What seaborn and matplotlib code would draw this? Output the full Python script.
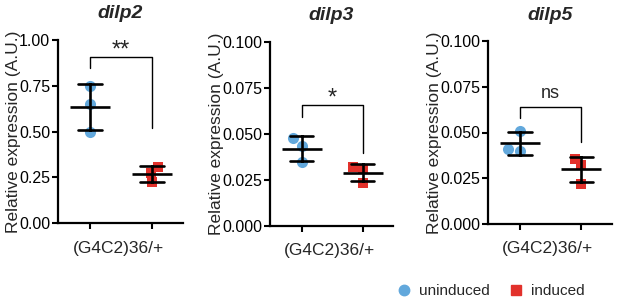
import numpy as np
import pandas as pd
import matplotlib
matplotlib.use("Agg")
import matplotlib.pyplot as plt
from matplotlib.lines import Line2D
from matplotlib.ticker import FormatStrFormatter
import seaborn as sns

# ---- data ----
genes = ["dilp2", "dilp3", "dilp5"]
conditions = ["uninduced", "induced"]
uninduced = [[0.75, 0.65, 0.50], [0.0478, 0.0435, 0.0348], [0.051, 0.040, 0.041]]
induced = [[0.306, 0.273, 0.224], [0.032, 0.031, 0.0235], [0.0355, 0.032, 0.022]]
ymax = [1.0, 0.1, 0.1]
yticks = [[0, 0.25, 0.5, 0.75, 1.0], [0, 0.025, 0.05, 0.075, 0.1], [0, 0.025, 0.05, 0.075, 0.1]]
tick_fmt = ["%.2f", "%.3f", "%.3f"]
sig_labels = ["**", "*", "ns"]
bracket_top = [0.907, 0.0658, 0.064]
bracket_left = [0.847, 0.059, 0.058]
bracket_right = [0.52, 0.0397, 0.045]
sig_text_y = [0.945, 0.0695, 0.0715]
group_label = "(G4C2)36/+"
ylabel = "Relative expression (A.U.)"

blue = "#62a8dc"
red = "#e2312b"

sns.set_style("ticks")
plt.rcParams["font.family"] = ["Liberation Sans", "DejaVu Sans"]

W, H = 617, 301
fig = plt.figure(figsize=(W / 100, H / 100), dpi=100)

# axes boxes in pixels: left, right, top, bottom
boxes = [(58, 183, 40, 223), (270, 393, 42, 226), (488, 612, 41, 224)]

for i, g in enumerate(genes):
    l, r, t, b = boxes[i]
    ax = fig.add_axes([l / W, 1 - b / H, (r - l) / W, (b - t) / H])
    df = pd.DataFrame({
        "condition": ["uninduced"] * len(uninduced[i]) + ["induced"] * len(induced[i]),
        "value": uninduced[i] + induced[i],
    })
    sns.swarmplot(data=df[df.condition == "uninduced"], x="condition", y="value",
                  order=conditions, color=blue, marker="o", size=8, linewidth=0,
                  ax=ax, zorder=2)
    sns.swarmplot(data=df[df.condition == "induced"], x="condition", y="value",
                  order=conditions, color=red, marker="s", size=6.5, linewidth=0,
                  ax=ax, zorder=2)
    sns.pointplot(data=df, x="condition", y="value", order=conditions,
                  errorbar="sd", capsize=0.38, color="black",
                  marker="_", markersize=29, markeredgewidth=1.9,
                  linestyle="none", err_kws={"linewidth": 1.9}, ax=ax, zorder=3)

    ax.set_xlim(-0.52, 1.5)
    ax.set_ylim(0, ymax[i])
    ax.set_yticks(yticks[i])
    ax.yaxis.set_major_formatter(FormatStrFormatter(tick_fmt[i]))
    ax.set_xticks([0, 1])
    ax.set_xticklabels(["", ""])
    ax.set_xlabel("")
    ax.set_ylabel(ylabel, fontsize=12.5, labelpad=-1)
    ax.tick_params(axis="both", length=4, width=1.5, labelsize=11.5, pad=1.5, colors="black")
    for s in ["left", "bottom"]:
        ax.spines[s].set_linewidth(1.6)
        ax.spines[s].set_color("black")
    sns.despine(ax=ax)

    ax.text(0.45, -25 / (b - t), group_label, transform=ax.get_xaxis_transform(),
            ha="center", va="center", fontsize=12.5, clip_on=False)
    ax.text(0.5, 1 + 26 / (b - t), g, transform=ax.transAxes, ha="center", va="center",
            fontsize=14, fontweight="bold", fontstyle="italic")

    # significance bracket
    ax.plot([0, 0, 1, 1], [bracket_left[i], bracket_top[i], bracket_top[i], bracket_right[i]],
            color="black", linewidth=1.0, clip_on=False, zorder=4)
    fs = 13 if sig_labels[i] == "ns" else 17
    ax.text(0.5, sig_text_y[i], sig_labels[i], ha="center", va="center", fontsize=fs)

handles = [Line2D([], [], marker="o", color=blue, linestyle="none", markersize=7.5),
           Line2D([], [], marker="s", color=red, linestyle="none", markersize=6.5)]
fig.legend(handles=handles, labels=conditions, loc="center", bbox_to_anchor=(0.795, 0.033),
           ncol=2, frameon=False, fontsize=11, handlelength=1.0, handletextpad=0.5,
           columnspacing=1.2)

fig.savefig("out.png", dpi=100)
